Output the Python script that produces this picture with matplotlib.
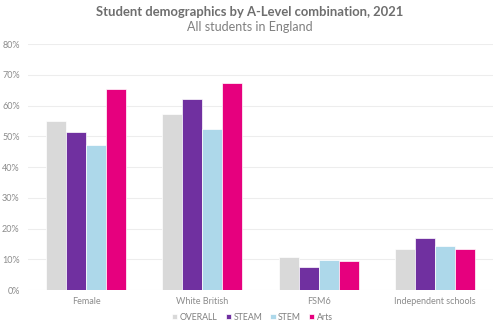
import numpy as np
import matplotlib.pyplot as plt
from matplotlib.ticker import PercentFormatter

categories = ['Female', 'White British', 'FSM6', 'Independent schools']
series = ['OVERALL', 'STEAM', 'STEM', 'Arts']
overall = [55.0, 57.3, 10.7, 13.2]
steam = [51.5, 62.1, 7.6, 17.0]
stem = [47.3, 52.3, 9.9, 14.4]
arts = [65.3, 67.4, 9.5, 13.5]

colors = ['#D9D9D9', '#7030A0', '#ADD8EA', '#E6007E']
values = [overall, steam, stem, arts]

plt.rcParams['font.family'] = ['Lato', 'DejaVu Sans']

fig = plt.figure(figsize=(5, 3.27), dpi=100)
ax = fig.add_axes([0.056, 0.113, 0.93, 0.752])

x = np.arange(len(categories))
w = 0.172
for i, (name, vals) in enumerate(zip(series, values)):
    ax.bar(x + (i - 1.5) * w, vals, w, color=colors[i], label=name,
           edgecolor='white', linewidth=0.5, zorder=3)

ax.set_ylim(0, 80)
ax.set_xlim(-0.5, len(categories) - 0.5)
ax.set_yticks(range(0, 81, 10))
ax.yaxis.set_major_formatter(PercentFormatter(decimals=0))
ax.set_xticks(x)
ax.set_xticklabels(categories)
ax.tick_params(axis='both', length=0, labelsize=6.5, colors='#8C8C8C')
ax.tick_params(axis='y', pad=6)
ax.tick_params(axis='x', pad=5)
ax.grid(axis='y', color='#EDEDED', linewidth=0.8, zorder=0)
for s in ax.spines.values():
    s.set_visible(False)

fig.text(0.5, 0.962, 'Student demographics by A-Level combination, 2021',
         ha='center', va='center', fontsize=9.4, fontweight='bold', color='#6E6E6E')
fig.text(0.5, 0.917, 'All students in England',
         ha='center', va='center', fontsize=9, color='#7F7F7F')

leg = fig.legend(loc='center', bbox_to_anchor=(0.505, 0.03), ncol=4, frameon=False,
                 fontsize=6.3, handlelength=0.6, handleheight=0.6, handletextpad=0.3,
                 columnspacing=0.9)
for t in leg.get_texts():
    t.set_color('#7F7F7F')

fig.savefig('out.png', dpi=100)
